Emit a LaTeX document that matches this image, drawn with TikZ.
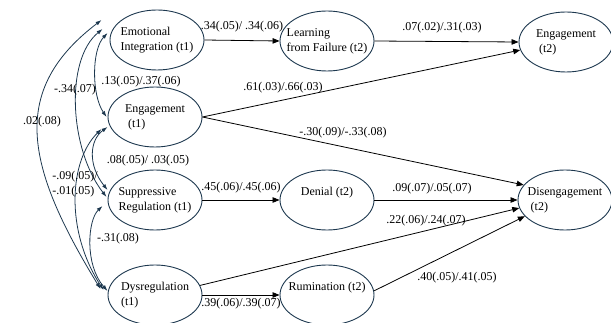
\documentclass[tikz,border=0pt]{standalone}
\usepackage{fontspec}
\setmainfont{Liberation Serif}
\usepackage{tikz}
\usetikzlibrary{shapes.geometric}
\usetikzlibrary{arrows.meta}

\definecolor{ovalblue}{RGB}{28,55,78}

\tikzset{
	oval/.style={ellipse, draw=ovalblue, line width=0.9pt, minimum width=94pt, minimum height=60pt, inner xsep=-20pt, inner ysep=0pt},
	effect/.style={-{Triangle[length=7pt,width=5.5pt]}, line width=0.8pt},
	covar/.style={{Latex[length=6pt,width=4pt]}-{Latex[length=6pt,width=4pt]}, draw=ovalblue, line width=0.8pt}
}

\begin{document}
\begin{tikzpicture}[x=1pt, y=-1pt, font=\fontsize{12}{15}\selectfont]
		\useasboundingbox (0,0) rectangle (611,323);

		\node[oval] (ei) at (157,40){\begin{tabular}{l}Emotional\\Integration (t1)\end{tabular}};
		\node[oval] (eng) at (155,117){\begin{tabular}{l}Engagement\\~(t1)\end{tabular}};
		\node[oval] (supp) at (155,200){\begin{tabular}{l}Suppressive\\Regulation (t1)\end{tabular}};
		\node[oval] (dys) at (155,295){\begin{tabular}{l}Dysregulation\\(t1)\end{tabular}};

		\node[oval] (lff) at (327,41){\begin{tabular}{l}Learning\\from Failure (t2)\end{tabular}};
		\node[oval] (den) at (327,200){\begin{tabular}{l}Denial (t2)\\~\end{tabular}};
		\node[oval] (rum) at (327,295){\begin{tabular}{l}Rumination (t2)\\~\end{tabular}};

		\node[oval] (engt) at (566,42){\begin{tabular}{l}Engagement\\~(t2)\end{tabular}};
		\node[oval] (dis) at (565,200){\begin{tabular}{l}Disengagement\\~(t2)\end{tabular}};

		\draw[effect] (ei.east) -- (lff.west);
		\draw[effect] (lff.east) -- (engt.west);
		\draw[effect] (eng.east) -- (engt.190);
		\draw[effect] (eng.east) -- (dis.160);
		\draw[effect] (supp.east) -- (den.west);
		\draw[effect] (den.east) -- (dis.west);
		\draw[effect] (dys.12) -- (dis.190);
		\draw[effect] (dys.east) -- (rum.west);
		\draw[effect] (rum.5) -- (dis.202);

		\draw[covar] ([shift={(-8,-20)}]ei.west) .. controls +(-92,70) and +(-76,-124) .. ([shift={(-7,-6)}]dys.west);
		\draw[covar] ([shift={(-7,-11)}]ei.west) .. controls +(-38,31) and +(-37,-47) .. ([shift={(-1,-3)}]supp.west);
		\draw[covar] ([shift={(-2,-7)}]ei.west) .. controls +(-16,17) and +(-15,-22) .. ([shift={(-1,0)}]eng.west);
		\draw[covar] ([shift={(0,10)}]eng.west) .. controls +(-18,13) and +(-20,-25) .. ([shift={(0,-10)}]supp.west);
		\draw[covar] ([shift={(-6,12)}]eng.west) .. controls +(-32,31) and +(-39,-60) .. ([shift={(-4,-5)}]dys.west);
		\draw[covar] ([shift={(-5,6)}]supp.west) .. controls +(-15,14) and +(-23,-26) .. ([shift={(0,-4)}]dys.west);

		\node (c1) at (242,27){.34(.05)/ .34(.06)};
		\node (c2) at (442,28){.07(.02)/.31(.03)};
		\node (c3) at (283,88){.61(.03)/.66(.03)};
		\node (c4) at (343,133){-.30(.09)/-.33(.08)};
		\node (c5) at (241,188){.45(.06)/.45(.06)};
		\node (c6) at (432,189){.09(.07)/.05(.07)};
		\node (c7) at (426,221){.22(.06)/.24(.07)};
		\node (c8) at (457,278){.40(.05)/.41(.05)};
		\node (c9) at (241,304){.39(.06)/.39(.07)};

		\node (r1) at (42,122){.02(.08)};
		\node (r2) at (75,90){-.34(.07)};
		\node (r3) at (141,82){.13(.05)/.37(.06)};
		\node (r4) at (148,161){.08(.05)/ .03(.05)};
		\node (r5) at (75,184){\begin{tabular}{@{}l@{}}-.09(.05)/\\-.01(.05)\end{tabular}};
		\node (r6) at (118,239){-.31(.08)};

		\end{tikzpicture}
\end{document}
